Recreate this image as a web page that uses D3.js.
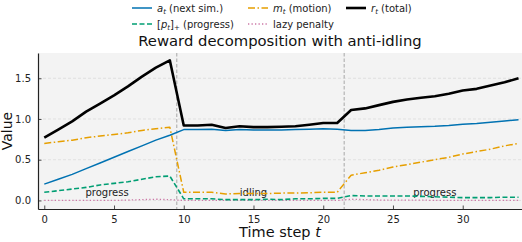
<!DOCTYPE html>
<html>
<head>
<meta charset="utf-8">
<script src="https://cdn.jsdelivr.net/npm/d3@7"></script>
<style>
  body { margin: 0; background: #fff; }
  svg { font-family: "DejaVu Sans", sans-serif; }
</style>
</head>
<body>
<svg id="chart" width="522" height="242"></svg>
<script>
// time steps 0..34
let steps = d3.range(0, 35);

let nextSim = [0.20, 0.26, 0.32, 0.39, 0.46, 0.53, 0.60, 0.67, 0.74, 0.80,
	0.87, 0.87, 0.875, 0.86, 0.87, 0.865, 0.865, 0.865, 0.87, 0.875,
	0.88, 0.875, 0.86, 0.86, 0.87, 0.89, 0.90, 0.905, 0.91, 0.92,
	0.935, 0.945, 0.96, 0.975, 0.99];

let motion = [0.70, 0.72, 0.74, 0.77, 0.79, 0.81, 0.83, 0.86, 0.88, 0.90,
	0.10, 0.10, 0.10, 0.08, 0.085, 0.085, 0.085, 0.09, 0.09, 0.095,
	0.10, 0.10, 0.31, 0.34, 0.37, 0.41, 0.44, 0.47, 0.50, 0.53,
	0.57, 0.60, 0.63, 0.67, 0.70];

let progress = [0.10, 0.12, 0.14, 0.16, 0.19, 0.21, 0.23, 0.26, 0.29, 0.30,
	0.02, 0.02, 0.02, 0.01, 0.01, 0.01, 0.015, 0.01, 0.02, 0.02,
	0.025, 0.025, 0.06, 0.055, 0.055, 0.055, 0.055, 0.05, 0.045, 0.04,
	0.035, 0.035, 0.035, 0.04, 0.04];

let lazy = [0.0, 0.0, 0.0, 0.0, 0.0, 0.0, 0.005, 0.01, 0.015, 0.01,
	0.0, 0.0, 0.0, 0.0, 0.0, 0.0, 0.0, 0.0, 0.0, 0.0,
	0.0, 0.0, 0.015, 0.01, 0.005, 0.005, 0.005, 0.005, 0.0, 0.0,
	0.0, 0.0, 0.0, 0.0, 0.0];

let total = [0.77, 0.87, 0.97, 1.09, 1.19, 1.29, 1.40, 1.52, 1.63, 1.72,
	0.92, 0.92, 0.93, 0.89, 0.91, 0.90, 0.90, 0.905, 0.91, 0.93,
	0.95, 0.95, 1.11, 1.13, 1.17, 1.21, 1.24, 1.26, 1.28, 1.31,
	1.35, 1.37, 1.41, 1.45, 1.50];

let phaseBreaks = [9.5, 21.5];
let phaseLabels = [
	{ t: 4.5, v: 0.1, text: "progress" },
	{ t: 15, v: 0.1, text: "idling" },
	{ t: 28, v: 0.1, text: "progress" }
];

let xTicks = [0, 5, 10, 15, 20, 25, 30];
let yTicks = [0, 0.5, 1.0, 1.5];

let svg = d3.select("svg#chart"),
	margin = { top: 53, right: 0, bottom: 33, left: 38 },
	width = +svg.attr("width") - margin.left - margin.right,
	height = +svg.attr("height") - margin.top - margin.bottom;

let x = d3.scaleLinear().domain([-0.45, 34.25]).range([margin.left, margin.left + width]);
let y = d3.scaleLinear().domain([-0.105, 1.81]).range([margin.top + height, margin.top]);

// plot background
svg.append("rect")
	.attr("x", margin.left).attr("y", margin.top)
	.attr("width", width).attr("height", height)
	.attr("fill", "#f3f3f3");

// horizontal grid
svg.append("g").selectAll("line")
	.data(yTicks)
	.enter().append("line")
	.attr("x1", margin.left).attr("x2", margin.left + width)
	.attr("y1", d => y(d)).attr("y2", d => y(d))
	.attr("stroke", "#dcdcdc").attr("stroke-width", 0.8)
	.attr("stroke-dasharray", "3,2");

// phase separators
svg.append("g").selectAll("line")
	.data(phaseBreaks)
	.enter().append("line")
	.attr("x1", d => x(d)).attr("x2", d => x(d))
	.attr("y1", margin.top).attr("y2", margin.top + height)
	.attr("stroke", "#a8a8a8").attr("stroke-width", 1)
	.attr("stroke-dasharray", "3.5,2");

// phase labels
svg.append("g").selectAll("text")
	.data(phaseLabels)
	.enter().append("text")
	.attr("x", d => x(d.t)).attr("y", d => y(d.v))
	.attr("text-anchor", "middle").attr("dy", "0.35em")
	.attr("font-size", 10).attr("fill", "#222")
	.text(d => d.text);

let series = [
	{ key: "lazy", values: lazy, color: "#CC79A7", width: 1.3, dash: "1.3,2.2" },
	{ key: "progress", values: progress, color: "#009E73", width: 1.6, dash: "5,2.5" },
	{ key: "motion", values: motion, color: "#E69F00", width: 1.5, dash: "7,2.5,1.5,2.5" },
	{ key: "nextSim", values: nextSim, color: "#0072B2", width: 1.5, dash: null },
	{ key: "total", values: total, color: "#000000", width: 2.6, dash: null }
];

let line = d3.line()
	.x((d, i) => x(steps[i]))
	.y(d => y(d));

svg.append("g").selectAll("path")
	.data(series)
	.enter().append("path")
	.attr("d", d => line(d.values))
	.attr("fill", "none")
	.attr("stroke", d => d.color)
	.attr("stroke-width", d => d.width)
	.attr("stroke-dasharray", d => d.dash)
	.attr("stroke-linejoin", "round");

// axes, ticks pointing inward
let xAxis = svg.append("g")
	.attr("transform", "translate(0," + (margin.top + height) + ")")
	.call(d3.axisBottom(x).tickValues(xTicks).tickFormat(d3.format("d")).tickSizeInner(-3.5).tickSizeOuter(0).tickPadding(7));
let yAxis = svg.append("g")
	.attr("transform", "translate(" + margin.left + ",0)")
	.call(d3.axisLeft(y).tickValues(yTicks).tickFormat(d3.format(".1f")).tickSizeInner(-3.5).tickSizeOuter(0).tickPadding(7));

[xAxis, yAxis].forEach(function(a) {
	a.select(".domain").attr("stroke", "#222").attr("stroke-width", 1.2);
	a.selectAll(".tick line").attr("stroke", "#222").attr("stroke-width", 0.8);
	a.selectAll(".tick text").attr("font-size", 10).attr("fill", "#222")
		.attr("font-family", "DejaVu Sans, sans-serif");
});

// title and axis labels
svg.append("text")
	.attr("x", margin.left + width / 2).attr("y", 46)
	.attr("text-anchor", "middle").attr("font-size", 14.8).attr("fill", "#111")
	.text("Reward decomposition with anti-idling");

let xl = svg.append("text")
	.attr("x", margin.left + width / 2).attr("y", 237)
	.attr("text-anchor", "middle").attr("font-size", 14.5).attr("fill", "#111");
xl.append("tspan").text("Time step ");
xl.append("tspan").attr("font-style", "italic").text("t");

svg.append("text")
	.attr("transform", "translate(12," + (margin.top + height / 2) + ") rotate(-90)")
	.attr("text-anchor", "middle").attr("font-size", 14).attr("fill", "#111")
	.text("Value");

// legend
let legendItems = [
	{ sym: "a", sub: "t", label: " (next sim.)", color: "#0072B2", width: 1.5, dash: null, lx: 132, ly: 8 },
	{ sym: "m", sub: "t", label: " (motion)", color: "#E69F00", width: 1.5, dash: "7,2.5,1.5,2.5", lx: 248, ly: 8 },
	{ sym: "r", sub: "t", label: " (total)", color: "#000000", width: 2.6, dash: null, lx: 346, ly: 8 },
	{ sym: "[p", sub: "t", label: " (progress)", post: "]", postSub: "+", color: "#009E73", width: 1.6, dash: "5,2.5", lx: 132, ly: 24 },
	{ sym: null, label: "lazy penalty", color: "#CC79A7", width: 1.3, dash: "1.3,2.2", lx: 248, ly: 24 }
];

let legend = svg.append("g").attr("font-size", 10).attr("fill", "#222");
let item = legend.selectAll("g")
	.data(legendItems)
	.enter().append("g")
	.attr("transform", d => "translate(" + d.lx + "," + d.ly + ")");

item.append("line")
	.attr("x1", 0).attr("x2", 20).attr("y1", 0).attr("y2", 0)
	.attr("stroke", d => d.color)
	.attr("stroke-width", d => d.width)
	.attr("stroke-dasharray", d => d.dash);

item.each(function(d) {
	let t = d3.select(this).append("text").attr("x", 25).attr("dy", "0.35em");
	if (d.sym === null) { t.text(d.label); return; }
	if (d.sym === "[p") {
		t.append("tspan").text("[");
		t.append("tspan").attr("font-style", "italic").text("p");
	} else {
		t.append("tspan").attr("font-style", "italic").text(d.sym);
	}
	t.append("tspan").attr("font-size", 7).attr("font-style", "italic").attr("dy", 2.5).text(d.sub);
	if (d.post) {
		t.append("tspan").attr("dy", -2.5).text(d.post);
		t.append("tspan").attr("font-size", 7).attr("dy", 2.5).text(d.postSub);
	}
	t.append("tspan").attr("dy", -2.5).text(d.label);
});
</script>
</body>
</html>
